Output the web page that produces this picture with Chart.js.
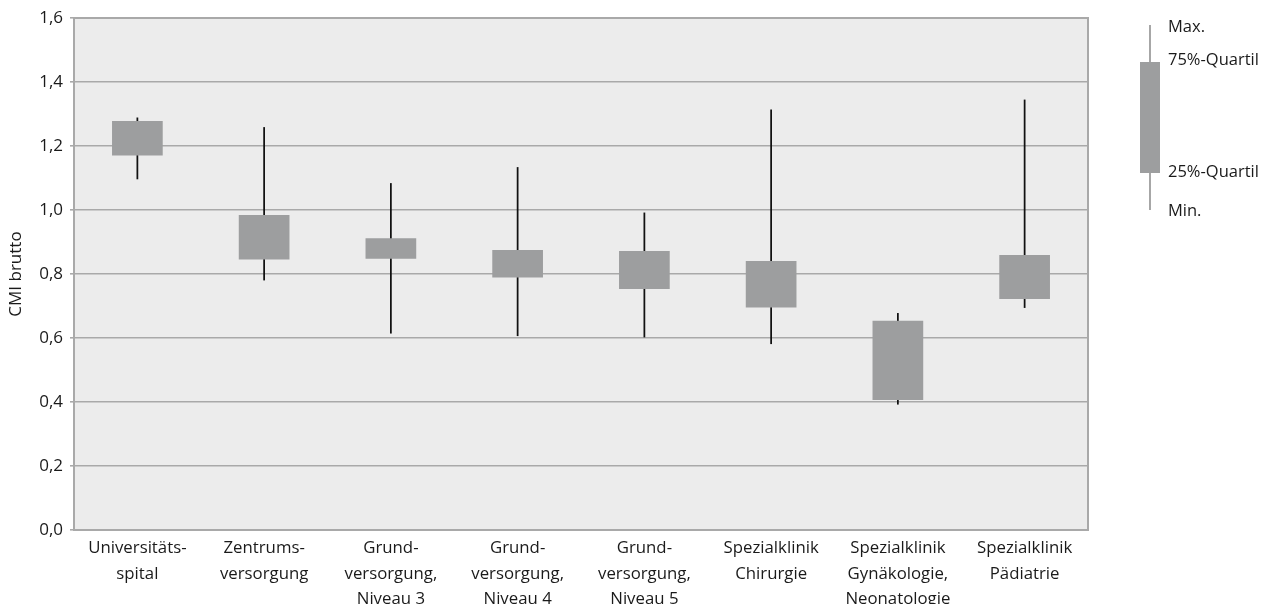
<!DOCTYPE html>
<html>
<head>
<meta charset="utf-8">
<script src="https://cdn.jsdelivr.net/npm/chart.js@4.4.0/dist/chart.umd.min.js"></script>
<style>
  body { margin: 0; background: #fff; }
  #wrap { width: 1274px; height: 604px; }
</style>
</head>
<body>
<div id="wrap"><canvas id="myChart"></canvas></div>
<script>
const kategorien = [
  ['Universitäts-', 'spital'],
  ['Zentrums-', 'versorgung'],
  ['Grund-', 'versorgung,', 'Niveau 3'],
  ['Grund-', 'versorgung,', 'Niveau 4'],
  ['Grund-', 'versorgung,', 'Niveau 5'],
  ['Spezialklinik', 'Chirurgie'],
  ['Spezialklinik', 'Gynäkologie,', 'Neonatologie'],
  ['Spezialklinik', 'Pädiatrie']
];
const minWerte = [1.097, 0.781, 0.615, 0.607, 0.603, 0.582, 0.393, 0.695];
const q1Werte = [1.170, 0.845, 0.848, 0.789, 0.753, 0.695, 0.406, 0.722];
const q3Werte = [1.278, 0.984, 0.912, 0.875, 0.872, 0.841, 0.654, 0.859];
const maxWerte = [1.288, 1.258, 1.083, 1.133, 0.991, 1.313, 0.677, 1.344];
const legendeTexte = ['Max.', '75%-Quartil', '25%-Quartil', 'Min.'];

const schrift = "'Open Sans', 'Noto Sans', sans-serif";
const textFarbe = '#1a1a1a';
const boxFarbe = '#9d9e9f';
const rasterFarbe = '#a9a9a9';

// Hintergrund und Rahmen der Zeichenfläche
const flaeche = {
  id: 'flaeche',
  beforeDraw(chart) {
    const { ctx, chartArea: a } = chart;
    ctx.save();
    ctx.fillStyle = '#ececec';
    ctx.fillRect(a.left, a.top, a.right - a.left, a.bottom - a.top);
    ctx.restore();
  },
  afterDraw(chart) {
    const { ctx, chartArea: a } = chart;
    ctx.save();
    ctx.strokeStyle = rasterFarbe;
    ctx.lineWidth = 2;
    ctx.strokeRect(a.left, a.top, a.right - a.left, a.bottom - a.top);
    ctx.restore();
  }
};

// Erklärung rechts neben dem Diagramm
const erklaerung = {
  id: 'erklaerung',
  afterDraw(chart) {
    const { ctx, chartArea: a } = chart;
    const x = a.right + 62;
    const yMax = a.top + 7, yQ3 = a.top + 44, yQ1 = a.top + 155, yMin = a.top + 192;
    ctx.save();
    ctx.strokeStyle = '#777';
    ctx.lineWidth = 1.3;
    ctx.beginPath();
    ctx.moveTo(x, yMax);
    ctx.lineTo(x, yMin);
    ctx.stroke();
    ctx.fillStyle = boxFarbe;
    ctx.fillRect(x - 10, yQ3, 20, yQ1 - yQ3);
    ctx.fillStyle = textFarbe;
    ctx.font = '16.5px ' + schrift;
    ctx.textBaseline = 'middle';
    const ys = [yMax + 2, yQ3 - 2, yQ1 - 1, yMin + 1];
    legendeTexte.forEach((t, i) => ctx.fillText(t, x + 18, ys[i]));
    ctx.restore();
  }
};

const ctx = document.getElementById('myChart').getContext('2d');
new Chart(ctx, {
  type: 'bar',
  data: {
    labels: kategorien,
    datasets: [
      {
        label: 'Quartile',
        data: q1Werte.map((v, i) => [v, q3Werte[i]]),
        backgroundColor: boxFarbe,
        borderWidth: 0,
        grouped: false,
        categoryPercentage: 1,
        barPercentage: 0.4,
        order: 0
      },
      {
        label: 'Min/Max',
        data: minWerte.map((v, i) => [v, maxWerte[i]]),
        backgroundColor: '#111',
        borderWidth: 0,
        grouped: false,
        barThickness: 1.1,
        order: 1
      }
    ]
  },
  options: {
    responsive: true,
    maintainAspectRatio: false,
    animation: false,
    layout: { padding: { top: 18, right: 186, left: 0, bottom: 0 } },
    plugins: {
      legend: { display: false },
      tooltip: { enabled: false }
    },
    scales: {
      x: {
        grid: { display: false, drawTicks: false },
        border: { display: false },
        ticks: {
          color: textFarbe,
          padding: 6,
          maxRotation: 0,
          autoSkip: false,
          font: { family: schrift, size: 16.8, lineHeight: 1.5 }
        },
        afterFit(scale) { scale.height = 74; }
      },
      y: {
        min: 0,
        max: 1.6,
        border: { display: false },
        grid: { color: rasterFarbe, lineWidth: 1.6, tickLength: 4 },
        ticks: {
          stepSize: 0.2,
          color: textFarbe,
          padding: 7,
          font: { family: schrift, size: 17 },
          callback: v => v.toFixed(1).replace('.', ',')
        },
        title: {
          display: true,
          text: 'CMI brutto',
          color: textFarbe,
          padding: { top: 6, bottom: 0 },
          font: { family: schrift, size: 17 }
        },
        afterFit(scale) { scale.width = 74; }
      }
    }
  },
  plugins: [flaeche, erklaerung]
});
</script>
</body>
</html>
